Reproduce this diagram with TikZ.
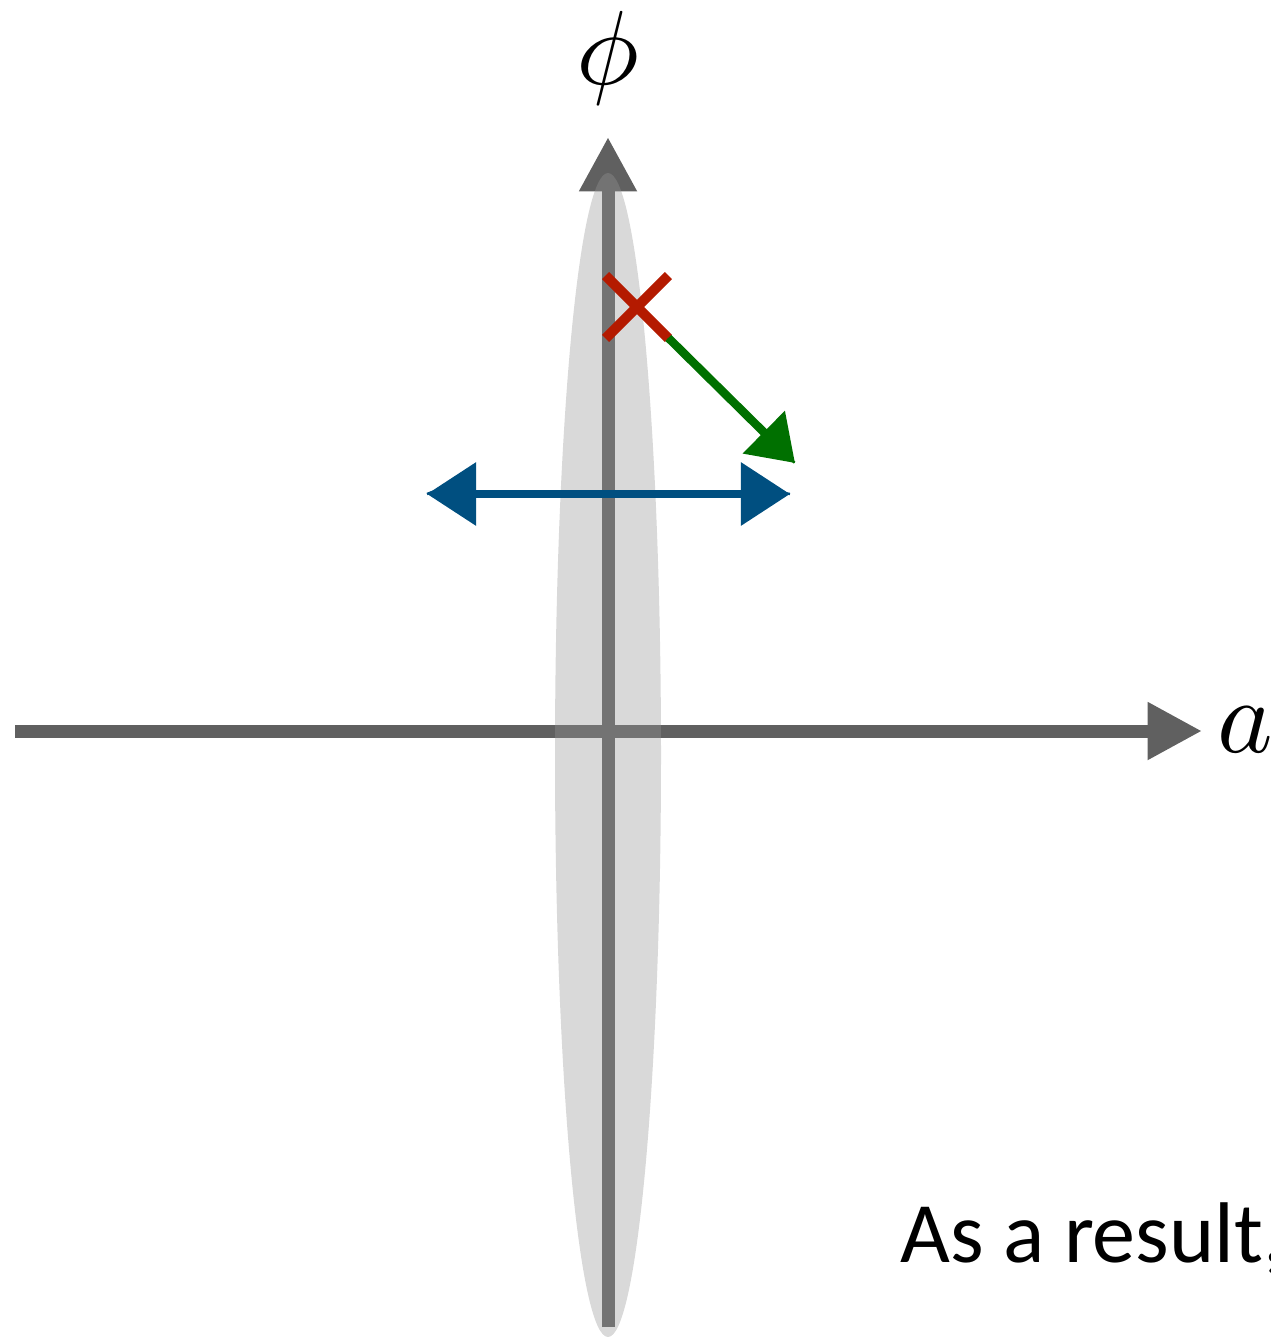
\documentclass[tikz,border=0pt]{standalone}
\usepackage{graphicx}
\usepackage{fontspec}
\setmainfont{Carlito}
\usetikzlibrary{arrows.meta,shapes.misc,decorations.pathmorphing,positioning}

\definecolor{axisgray}{RGB}{96,96,96}
\definecolor{lensgray}{RGB}{149,149,149}
\definecolor{missred}{RGB}{180,26,0}
\definecolor{stepgreen}{RGB}{0,112,0}
\definecolor{sweepblue}{RGB}{0,79,128}

\newcommand{\biglabel}[1]{\scalebox{6}{$#1$}}

\begin{document}
\begin{tikzpicture}[x=0.02cm, y=-0.02cm,
    axis/.style={draw=axisgray, line width=7.4pt, -{Triangle[length=31pt,width=31pt]}},
    rough/.style={postaction={draw, line width=1.4pt, arrows=-, decorate,
        decoration={random steps, segment length=2pt, amplitude=1.2pt}}},
    greenarrow/.style={draw=stepgreen, line width=4.8pt, -{Triangle[length=25pt,width=33pt]}, rough},
    bluearrow/.style={draw=sweepblue, line width=5pt,
        {Triangle[length=28pt,width=35pt]}-{Triangle[length=28pt,width=35pt]}, rough},
    axislabel/.style={inner sep=0pt, font=\fontsize{10}{12}\selectfont}
]
    \clip (0,0) rectangle (1271,1339);

    % Axes
    \coordinate (xstart) at (15,731);
    \coordinate (xend) at (1202,731);
    \coordinate (ybottom) at (608,1327);
    \coordinate (ytop) at (608,137);
    \draw[axis] (xstart) -- (xend);
    \draw[axis] (ybottom) -- (ytop);

    % Narrow valley
    \fill[lensgray, opacity=0.36] (608,755) ellipse [x radius=53, y radius=582];

    % Axis labels
    \node[axislabel, anchor=base] (philabel) at (608,84) {\biglabel{\phi}};
    \node[axislabel, anchor=base west] (alabel) at (1217,752) {\biglabel{a}};

    % Current point and steps
    \node[cross out, draw=missred, line width=5.7pt, minimum size=1.06cm,
          inner sep=0pt, outer sep=2.8pt] (miss) at (637,307) {};
    \coordinate (gtip) at (795,463);
    \draw[greenarrow] (miss) -- (gtip);

    \coordinate (bleft) at (427,494);
    \coordinate (bright) at (790,494);
    \draw[bluearrow] (bleft) -- (bright);

    % Caption
    \node[inner sep=0pt, anchor=base west, font=\fontsize{49}{58}\selectfont]
        (result) at (900,1262) {As a result,};
\end{tikzpicture}
\end{document}
